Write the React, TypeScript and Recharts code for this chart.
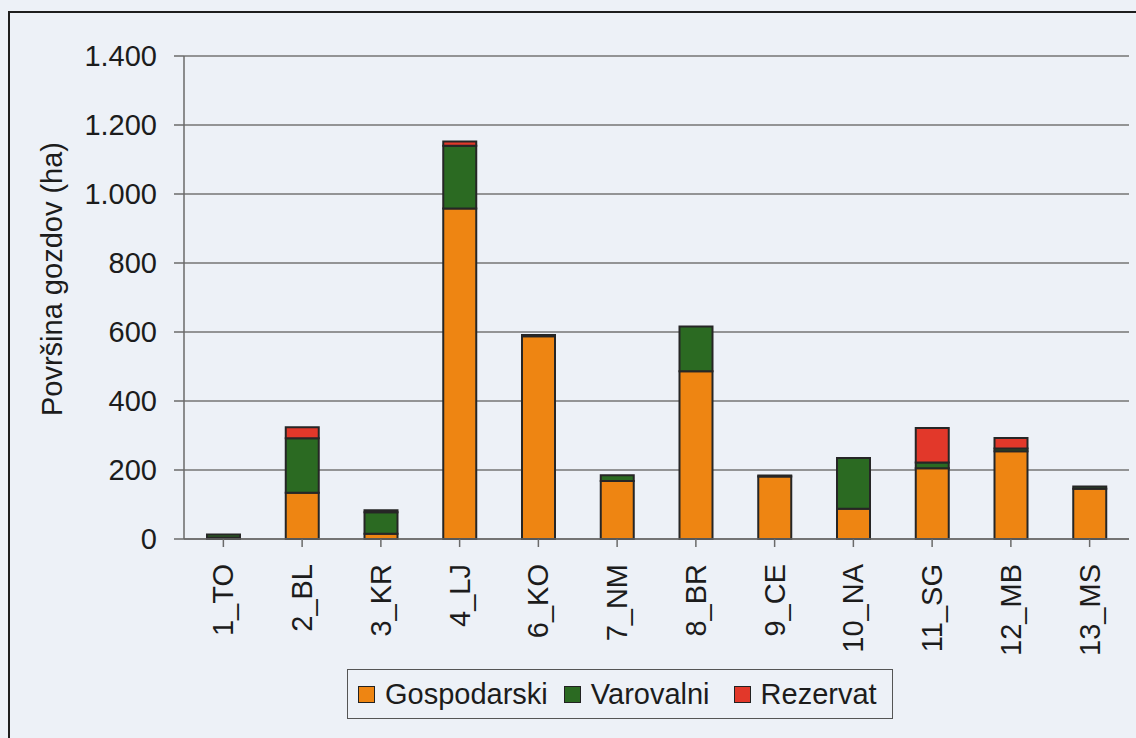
import React from 'react'
import { BarChart, Bar, XAxis, YAxis, CartesianGrid, Legend } from 'recharts'

// površina gozdov po GGO (ha)
const categories = ['1_TO', '2_BL', '3_KR', '4_LJ', '6_KO', '7_NM', '8_BR', '9_CE', '10_NA', '11_SG', '12_MB', '13_MS']
const gospodarski = [4.3, 134, 15.3, 958, 588, 168, 486, 181, 88, 205, 254, 146]
const varovalni = [9, 158, 62, 182, 1, 17, 130, 3, 147, 17, 8, 6]
const rezervat = [0, 32, 6.2, 12, 2.1, 0, 0, 0, 0, 100, 31, 0]
const yTicks = [0, 200, 400, 600, 800, 1000, 1200, 1400]

const seriesNames = ['Gospodarski', 'Varovalni', 'Rezervat']
const COLORS = ['#ee8512', '#2b6a22', '#e2382a']

const FONT = '"Liberation Sans", Arial, sans-serif'
const BG = '#edf1f7'
const FS = 29

const data = categories.map((name, i) => ({
  name,
  Gospodarski: gospodarski[i],
  Varovalni: varovalni[i],
  Rezervat: rezervat[i],
}))

const fmt = (v: number) => v.toLocaleString('de-DE')

function XTick(props: any) {
  const { x, y, payload } = props
  return (
    <text
      x={x}
      y={y + 15}
      transform={`rotate(-90, ${x}, ${y + 15})`}
      textAnchor="end"
      dominantBaseline="central"
      fontSize={FS}
      fontFamily={FONT}
      fill="#1c1c1c"
    >
      {payload.value}
    </text>
  )
}

function YLabel() {
  return (
    <text
      x={52}
      y={279}
      transform="rotate(-90, 52, 279)"
      textAnchor="middle"
      dominantBaseline="central"
      fontSize={FS}
      fontFamily={FONT}
      fill="#1c1c1c"
    >
      Površina gozdov (ha)
    </text>
  )
}

function LegendBox() {
  return (
    <div
      style={{
        width: 546,
        height: 50,
        boxSizing: 'border-box',
        border: '1.5px solid #555',
        display: 'flex',
        alignItems: 'center',
        paddingLeft: 10,
        fontFamily: FONT,
        fontSize: FS,
        color: '#1c1c1c',
      }}
    >
      {seriesNames.map((s, i) => (
        <div key={s} style={{ display: 'flex', alignItems: 'center', marginRight: i === 0 ? 16 : 24 }}>
          <span
            style={{
              width: 17,
              height: 17,
              background: COLORS[i],
              border: '1px solid #222',
              boxSizing: 'border-box',
              marginRight: 10,
            }}
          />
          <span>{s}</span>
        </div>
      ))}
    </div>
  )
}

export default function App() {
  return (
    <div
      style={{
        position: 'fixed',
        left: 0,
        top: 0,
        width: 1136,
        height: 738,
        overflow: 'hidden',
        background: BG,
      }}
    >
      <div
        style={{
          position: 'absolute',
          left: 8,
          top: 11,
          width: 1200,
          height: 800,
          borderLeft: '2.5px solid #1e1e1e',
          borderTop: '2.5px solid #1e1e1e',
        }}
      />
      <div style={{ position: 'absolute', left: 0, top: 0 }}>
        <BarChart
          width={1136}
          height={738}
          data={data}
          margin={{ top: 56, right: 7, left: 0, bottom: 0 }}
          barSize={33}
        >
          <CartesianGrid vertical={false} stroke="#747474" strokeWidth={1.5} />
          <XAxis
            dataKey="name"
            height={199}
            interval={0}
            tick={<XTick />}
            tickSize={8}
            axisLine={{ stroke: '#6a6a6a', strokeWidth: 1.5 }}
            tickLine={{ stroke: '#6a6a6a', strokeWidth: 1.5 }}
          />
          <YAxis
            width={184}
            domain={[0, 1400]}
            ticks={yTicks}
            tickFormatter={fmt}
            tickSize={10}
            tickMargin={17}
            tick={{ fontSize: FS, fontFamily: FONT, fill: '#1c1c1c' }}
            axisLine={{ stroke: '#6a6a6a', strokeWidth: 1.5 }}
            tickLine={{ stroke: '#6a6a6a', strokeWidth: 1.5 }}
            label={<YLabel />}
          />
          <YAxis
            yAxisId="right"
            orientation="right"
            width={0}
            domain={[0, 1400]}
            tick={false}
            tickLine={false}
            axisLine={{ stroke: '#8a8a8a', strokeWidth: 1.5 }}
          />
          <Legend
            layout="vertical"
            align="center"
            verticalAlign="middle"
            content={<LegendBox />}
            wrapperStyle={{ position: 'absolute', left: 347, top: 669, width: 546, height: 50 }}
          />
          {seriesNames.map((s, i) => (
            <Bar
              key={s}
              dataKey={s}
              stackId="a"
              fill={COLORS[i]}
              stroke="#262626"
              strokeWidth={2}
              isAnimationActive={false}
            />
          ))}
        </BarChart>
      </div>
    </div>
  )
}
